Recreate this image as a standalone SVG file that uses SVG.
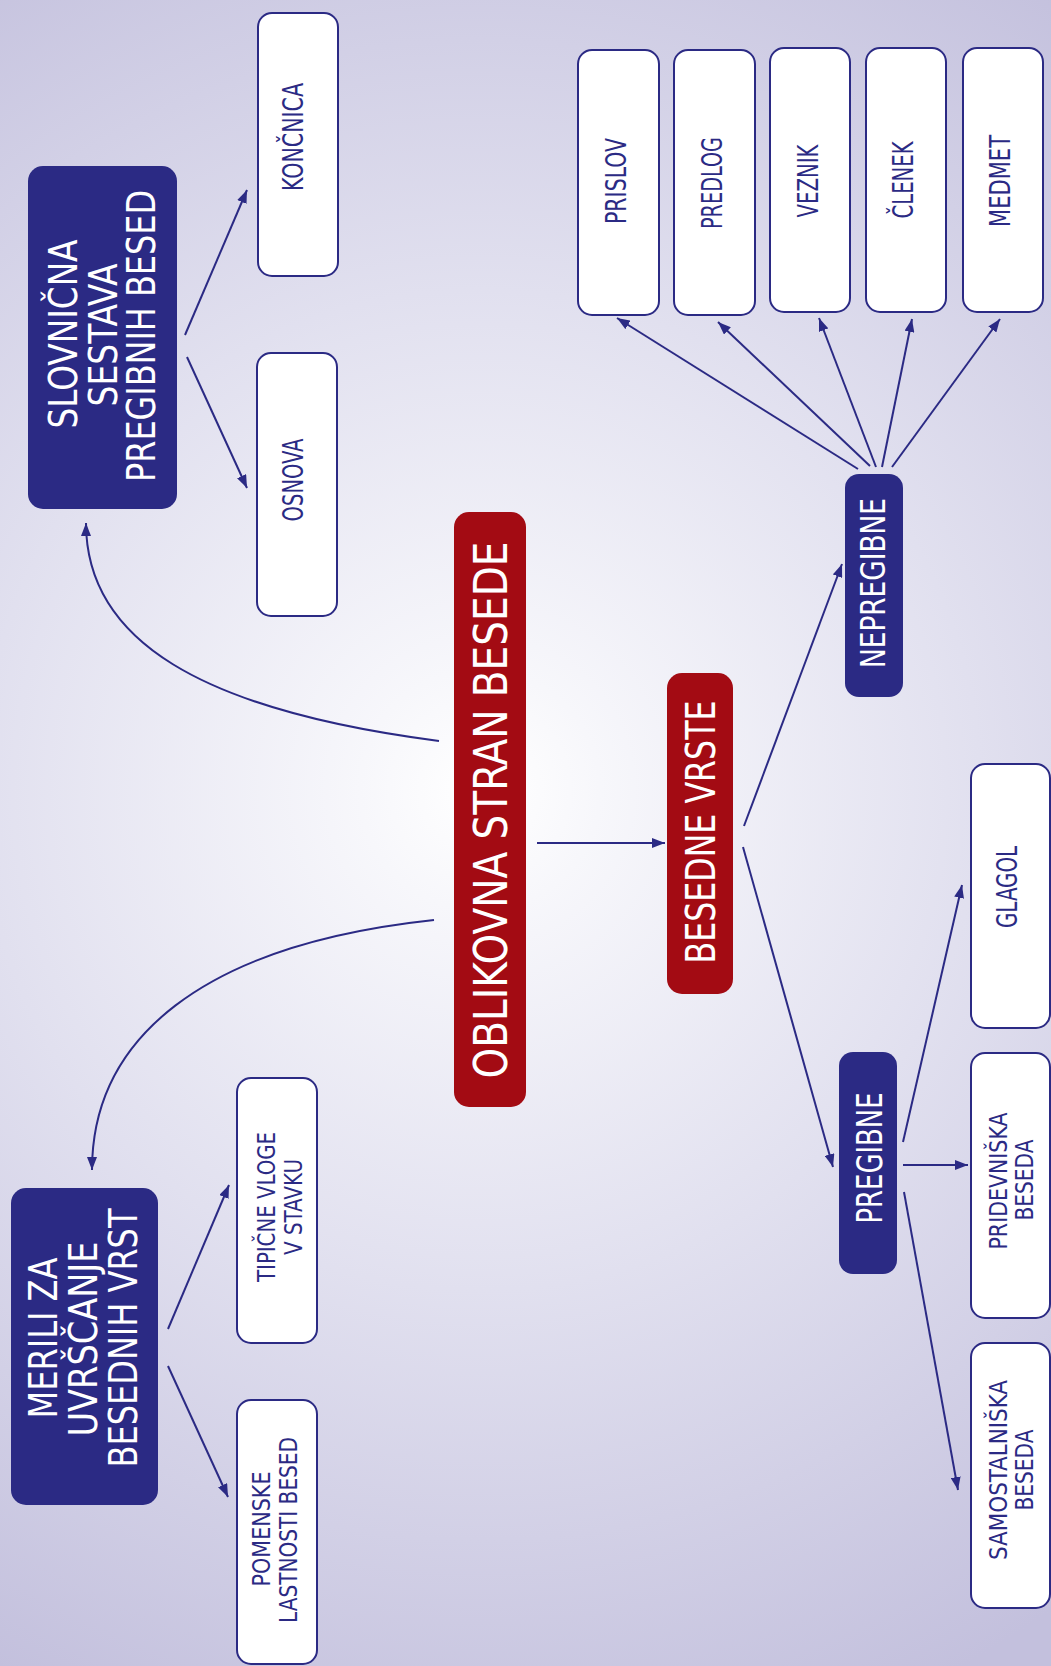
<svg xmlns="http://www.w3.org/2000/svg" width="1051" height="1666" viewBox="0 0 1051 1666">
<style>
.wbox{fill:#ffffff;stroke:#2b2a84;stroke-width:2}
.nbox{fill:#2b2a84}
.rbox{fill:#a30b13}
.t{font-family:"Liberation Sans Narrow","DejaVu Sans Condensed","Liberation Sans",sans-serif;text-anchor:middle}
.tw{fill:#ffffff}
.tn{fill:#2b2a84}
.conn path{fill:none;stroke:#2b2a84;stroke-width:2;marker-end:url(#arr)}
</style>
<defs>
<radialGradient id="bg" gradientUnits="userSpaceOnUse" cx="480" cy="790" r="1000">
<stop offset="0" stop-color="#ffffff"/>
<stop offset="0.12" stop-color="#f7f7fb"/>
<stop offset="0.5" stop-color="#e1e0ef"/>
<stop offset="1" stop-color="#c3c0dd"/>
</radialGradient>
<marker id="arr" markerUnits="userSpaceOnUse" markerWidth="13" markerHeight="10" refX="13" refY="5" orient="auto">
<path d="M0,0 L13,5 L0,10 z" fill="#2b2a84"/>
</marker>
</defs>
<rect x="0" y="0" width="1051" height="1666" fill="url(#bg)"/>

<g class="conn" id="connectors">
<path d="M537 843 L665 843"/>
<path d="M439 741 C200 710 86 640 86 523"/>
<path d="M434 920 C200 945 92 1040 92 1170"/>
<path d="M185 335 L247 190"/>
<path d="M187 357 L247 488"/>
<path d="M744 826 L842 564"/>
<path d="M743 847 L833 1167"/>
<path d="M903 1142 L962 885"/>
<path d="M903 1165 L968 1165"/>
<path d="M904 1192 L958 1490"/>
<path d="M858 469 L617 318"/>
<path d="M870 466 L718 322"/>
<path d="M876 467 L819 318"/>
<path d="M882 467 L912 319"/>
<path d="M892 467 L1000 319"/>
<path d="M168 1329 L229 1185"/>
<path d="M168 1366 L228 1497"/>
</g>

<g id="oblikovna">
<rect class="rbox" x="454" y="512" width="72" height="595" rx="15"/>
<text class="t tw" font-size="47" textLength="537" lengthAdjust="spacingAndGlyphs" transform="translate(507 810) rotate(-90)">OBLIKOVNA STRAN BESEDE</text>
</g>
<g id="besedne-vrste">
<rect class="rbox" x="667" y="673" width="66" height="321" rx="15"/>
<text class="t tw" font-size="40" textLength="263" lengthAdjust="spacingAndGlyphs" transform="translate(715 832) rotate(-90)">BESEDNE VRSTE</text>
</g>
<g id="slovnicna">
<rect class="nbox" x="28" y="166" width="149" height="343" rx="15"/>
<text class="t tw" font-size="39" textLength="189" lengthAdjust="spacingAndGlyphs" transform="translate(77 334) rotate(-90)">SLOVNIČNA</text>
<text class="t tw" font-size="39" textLength="143" lengthAdjust="spacingAndGlyphs" transform="translate(117 335) rotate(-90)">SESTAVA</text>
<text class="t tw" font-size="39" textLength="292" lengthAdjust="spacingAndGlyphs" transform="translate(155 336) rotate(-90)">PREGIBNIH BESED</text>
</g>
<g id="merili">
<rect class="nbox" x="11" y="1188" width="147" height="317" rx="15"/>
<text class="t tw" font-size="39" textLength="161" lengthAdjust="spacingAndGlyphs" transform="translate(57 1338) rotate(-90)">MERILI ZA</text>
<text class="t tw" font-size="39" textLength="195" lengthAdjust="spacingAndGlyphs" transform="translate(97 1339) rotate(-90)">UVRŠČANJE</text>
<text class="t tw" font-size="39" textLength="259" lengthAdjust="spacingAndGlyphs" transform="translate(137 1338) rotate(-90)">BESEDNIH VRST</text>
</g>
<g id="nepregibne">
<rect class="nbox" x="845" y="474" width="58" height="223" rx="14"/>
<text class="t tw" font-size="34" textLength="170" lengthAdjust="spacingAndGlyphs" transform="translate(885 583) rotate(-90)">NEPREGIBNE</text>
</g>
<g id="pregibne">
<rect class="nbox" x="839" y="1052" width="58" height="222" rx="14"/>
<text class="t tw" font-size="36" textLength="131" lengthAdjust="spacingAndGlyphs" transform="translate(882 1158) rotate(-90)">PREGIBNE</text>
</g>
<g id="koncnica">
<rect class="wbox" x="258" y="13" width="80" height="263" rx="14"/>
<text class="t tn" font-size="28" textLength="108" lengthAdjust="spacingAndGlyphs" transform="translate(303 137) rotate(-90)">KONČNICA</text>
</g>
<g id="osnova">
<rect class="wbox" x="257" y="353" width="80" height="263" rx="14"/>
<text class="t tn" font-size="28" textLength="83" lengthAdjust="spacingAndGlyphs" transform="translate(303 480) rotate(-90)">OSNOVA</text>
</g>
<g id="prislov">
<rect class="wbox" x="578" y="50" width="81" height="265" rx="14"/>
<text class="t tn" font-size="28" textLength="86" lengthAdjust="spacingAndGlyphs" transform="translate(626 181) rotate(-90)">PRISLOV</text>
</g>
<g id="predlog">
<rect class="wbox" x="674" y="50" width="81" height="265" rx="14"/>
<text class="t tn" font-size="28" textLength="92" lengthAdjust="spacingAndGlyphs" transform="translate(722 183) rotate(-90)">PREDLOG</text>
</g>
<g id="veznik">
<rect class="wbox" x="770" y="48" width="80" height="264" rx="14"/>
<text class="t tn" font-size="28" textLength="73" lengthAdjust="spacingAndGlyphs" transform="translate(818 181) rotate(-90)">VEZNIK</text>
</g>
<g id="clenek">
<rect class="wbox" x="866" y="48" width="80" height="264" rx="14"/>
<text class="t tn" font-size="28" textLength="77" lengthAdjust="spacingAndGlyphs" transform="translate(913 180) rotate(-90)">ČLENEK</text>
</g>
<g id="medmet">
<rect class="wbox" x="963" y="48" width="80" height="264" rx="14"/>
<text class="t tn" font-size="28" textLength="92" lengthAdjust="spacingAndGlyphs" transform="translate(1010 181) rotate(-90)">MEDMET</text>
</g>
<g id="glagol">
<rect class="wbox" x="971" y="764" width="79" height="264" rx="14"/>
<text class="t tn" font-size="28" textLength="82" lengthAdjust="spacingAndGlyphs" transform="translate(1017 887) rotate(-90)">GLAGOL</text>
</g>
<g id="pridevniska">
<rect class="wbox" x="971" y="1053" width="79" height="265" rx="14"/>
<text class="t tn" font-size="25" textLength="137" lengthAdjust="spacingAndGlyphs" transform="translate(1007 1181) rotate(-90)">PRIDEVNIŠKA</text>
<text class="t tn" font-size="25" textLength="81" lengthAdjust="spacingAndGlyphs" transform="translate(1033 1180) rotate(-90)">BESEDA</text>
</g>
<g id="samostalniska">
<rect class="wbox" x="971" y="1343" width="79" height="265" rx="14"/>
<text class="t tn" font-size="25" textLength="180" lengthAdjust="spacingAndGlyphs" transform="translate(1007 1470) rotate(-90)">SAMOSTALNIŠKA</text>
<text class="t tn" font-size="25" textLength="81" lengthAdjust="spacingAndGlyphs" transform="translate(1033 1470) rotate(-90)">BESEDA</text>
</g>
<g id="tipicne">
<rect class="wbox" x="237" y="1078" width="80" height="265" rx="14"/>
<text class="t tn" font-size="25" textLength="150" lengthAdjust="spacingAndGlyphs" transform="translate(275 1207) rotate(-90)">TIPIČNE VLOGE</text>
<text class="t tn" font-size="25" textLength="96" lengthAdjust="spacingAndGlyphs" transform="translate(302 1207) rotate(-90)">V STAVKU</text>
</g>
<g id="pomenske">
<rect class="wbox" x="237" y="1400" width="80" height="264" rx="14"/>
<text class="t tn" font-size="25" textLength="115" lengthAdjust="spacingAndGlyphs" transform="translate(270 1529) rotate(-90)">POMENSKE</text>
<text class="t tn" font-size="25" textLength="186" lengthAdjust="spacingAndGlyphs" transform="translate(297 1530) rotate(-90)">LASTNOSTI BESED</text>
</g>
</svg>
